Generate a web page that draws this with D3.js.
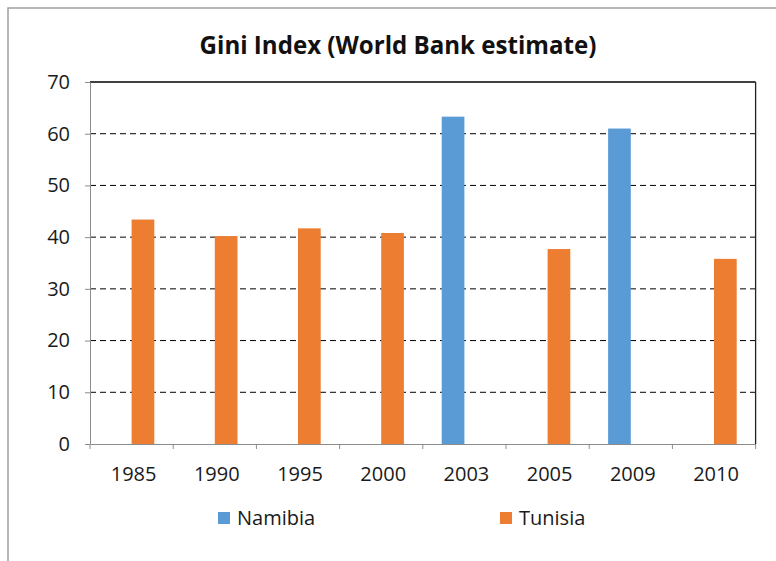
<!DOCTYPE html>
<html><head><meta charset="utf-8">
<script src="https://cdn.jsdelivr.net/npm/d3@7/dist/d3.min.js"></script>
<style>html,body{margin:0;padding:0;background:#fff;}svg{display:block;}</style>
</head><body>
<script>
const categories = ["1985","1990","1995","2000","2003","2005","2009","2010"];
const seriesNames = ["Namibia","Tunisia"];
const namibia = [null,null,null,null,63.3,null,61.0,null];
const tunisia = [43.4,40.2,41.7,40.8,null,37.7,null,35.8];
const yTicks = [0,10,20,30,40,50,60,70];
const colors = ["#5B9BD5","#ED7D31"];
const title = "Gini Index (World Bank estimate)";

const W = 776, H = 561;
const m = {left: 90, right: 20.4, top: 82, bottom: 117};
const svg = d3.select("body").append("svg").attr("width", W).attr("height", H);
const font = "'Open Sans', sans-serif";

// outer frame
svg.append("rect").attr("x", 8).attr("y", 8).attr("width", W + 20).attr("height", H + 20)
  .attr("fill", "none").attr("stroke", "#a0a0a0").attr("stroke-width", 1.5);

const x0 = d3.scaleBand().domain(categories).range([m.left, W - m.right]).padding(0);
const x1 = d3.scaleBand().domain(seriesNames).range([0, x0.bandwidth()]).paddingInner(0).paddingOuter(0.833);
const y = d3.scaleLinear().domain([0, 70]).range([H - m.bottom, m.top]);

// gridlines
svg.append("g").selectAll("line").data(yTicks.filter(t => t > 0 && t < 70)).join("line")
  .attr("x1", m.left).attr("x2", W - m.right)
  .attr("y1", d => y(d)).attr("y2", d => y(d))
  .attr("stroke", "#000").attr("stroke-width", 1).attr("stroke-dasharray", "6,4");

// top and right border of plot
svg.append("line").attr("x1", m.left).attr("x2", W - m.right).attr("y1", y(70)).attr("y2", y(70))
  .attr("stroke", "#000").attr("stroke-width", 1.3);
svg.append("line").attr("x1", W - m.right).attr("x2", W - m.right).attr("y1", y(70)).attr("y2", y(0))
  .attr("stroke", "#222").attr("stroke-width", 1.3);

// bars
const data = [];
categories.forEach((c, i) => {
  [namibia, tunisia].forEach((arr, k) => {
    if (arr[i] != null) data.push({cat: c, series: seriesNames[k], value: arr[i], color: colors[k]});
  });
});
svg.append("g").selectAll("rect").data(data).join("rect")
  .attr("x", d => x0(d.cat) + x1(d.series))
  .attr("width", x1.bandwidth())
  .attr("y", d => y(d.value))
  .attr("height", d => y(0) - y(d.value))
  .attr("fill", d => d.color);

// y axis
const yAxis = svg.append("g").attr("transform", `translate(${m.left},0)`)
  .call(d3.axisLeft(y).tickValues(yTicks).tickSize(5).tickPadding(15).tickSizeOuter(0));
yAxis.select(".domain").attr("stroke", "#8c8c8c");
yAxis.selectAll(".tick line").attr("stroke", "#8c8c8c");
yAxis.selectAll("text").attr("font-family", font).attr("font-size", 20).attr("fill", "#1a1a1a");

// x axis
const xAxis = svg.append("g").attr("transform", `translate(0,${y(0)})`)
  .call(d3.axisBottom(x0).tickSize(0).tickPadding(23));
xAxis.select(".domain").attr("stroke", "#8c8c8c");
xAxis.selectAll("text").attr("font-family", font).attr("font-size", 20).attr("fill", "#1a1a1a").attr("dx", 2);
// tick marks at band boundaries
const bounds = categories.map(c => x0(c)).concat([x0.range()[1]]);
svg.append("g").selectAll("line").data(bounds).join("line")
  .attr("x1", d => d).attr("x2", d => d)
  .attr("y1", y(0)).attr("y2", y(0) + 5)
  .attr("stroke", "#8c8c8c");

// title
const t = svg.append("text").attr("x", 398).attr("y", 54).attr("text-anchor", "middle")
  .attr("font-family", font).attr("font-weight", "bold").attr("font-size", 20).attr("fill", "#111")
  .text(title);
const tw = t.node().getComputedTextLength();
t.attr("font-size", 20 * 397 / tw);

// legend
const legX = [218, 500];
const leg = svg.append("g").selectAll("g").data(seriesNames).join("g")
  .attr("transform", (d, i) => `translate(${legX[i]},512)`);
leg.append("rect").attr("width", 12).attr("height", 12).attr("fill", (d, i) => colors[i]);
leg.append("text").attr("x", 19).attr("y", 13).attr("font-family", font).attr("font-size", 20)
  .attr("fill", "#1a1a1a").text(d => d);
</script>
</body></html>
